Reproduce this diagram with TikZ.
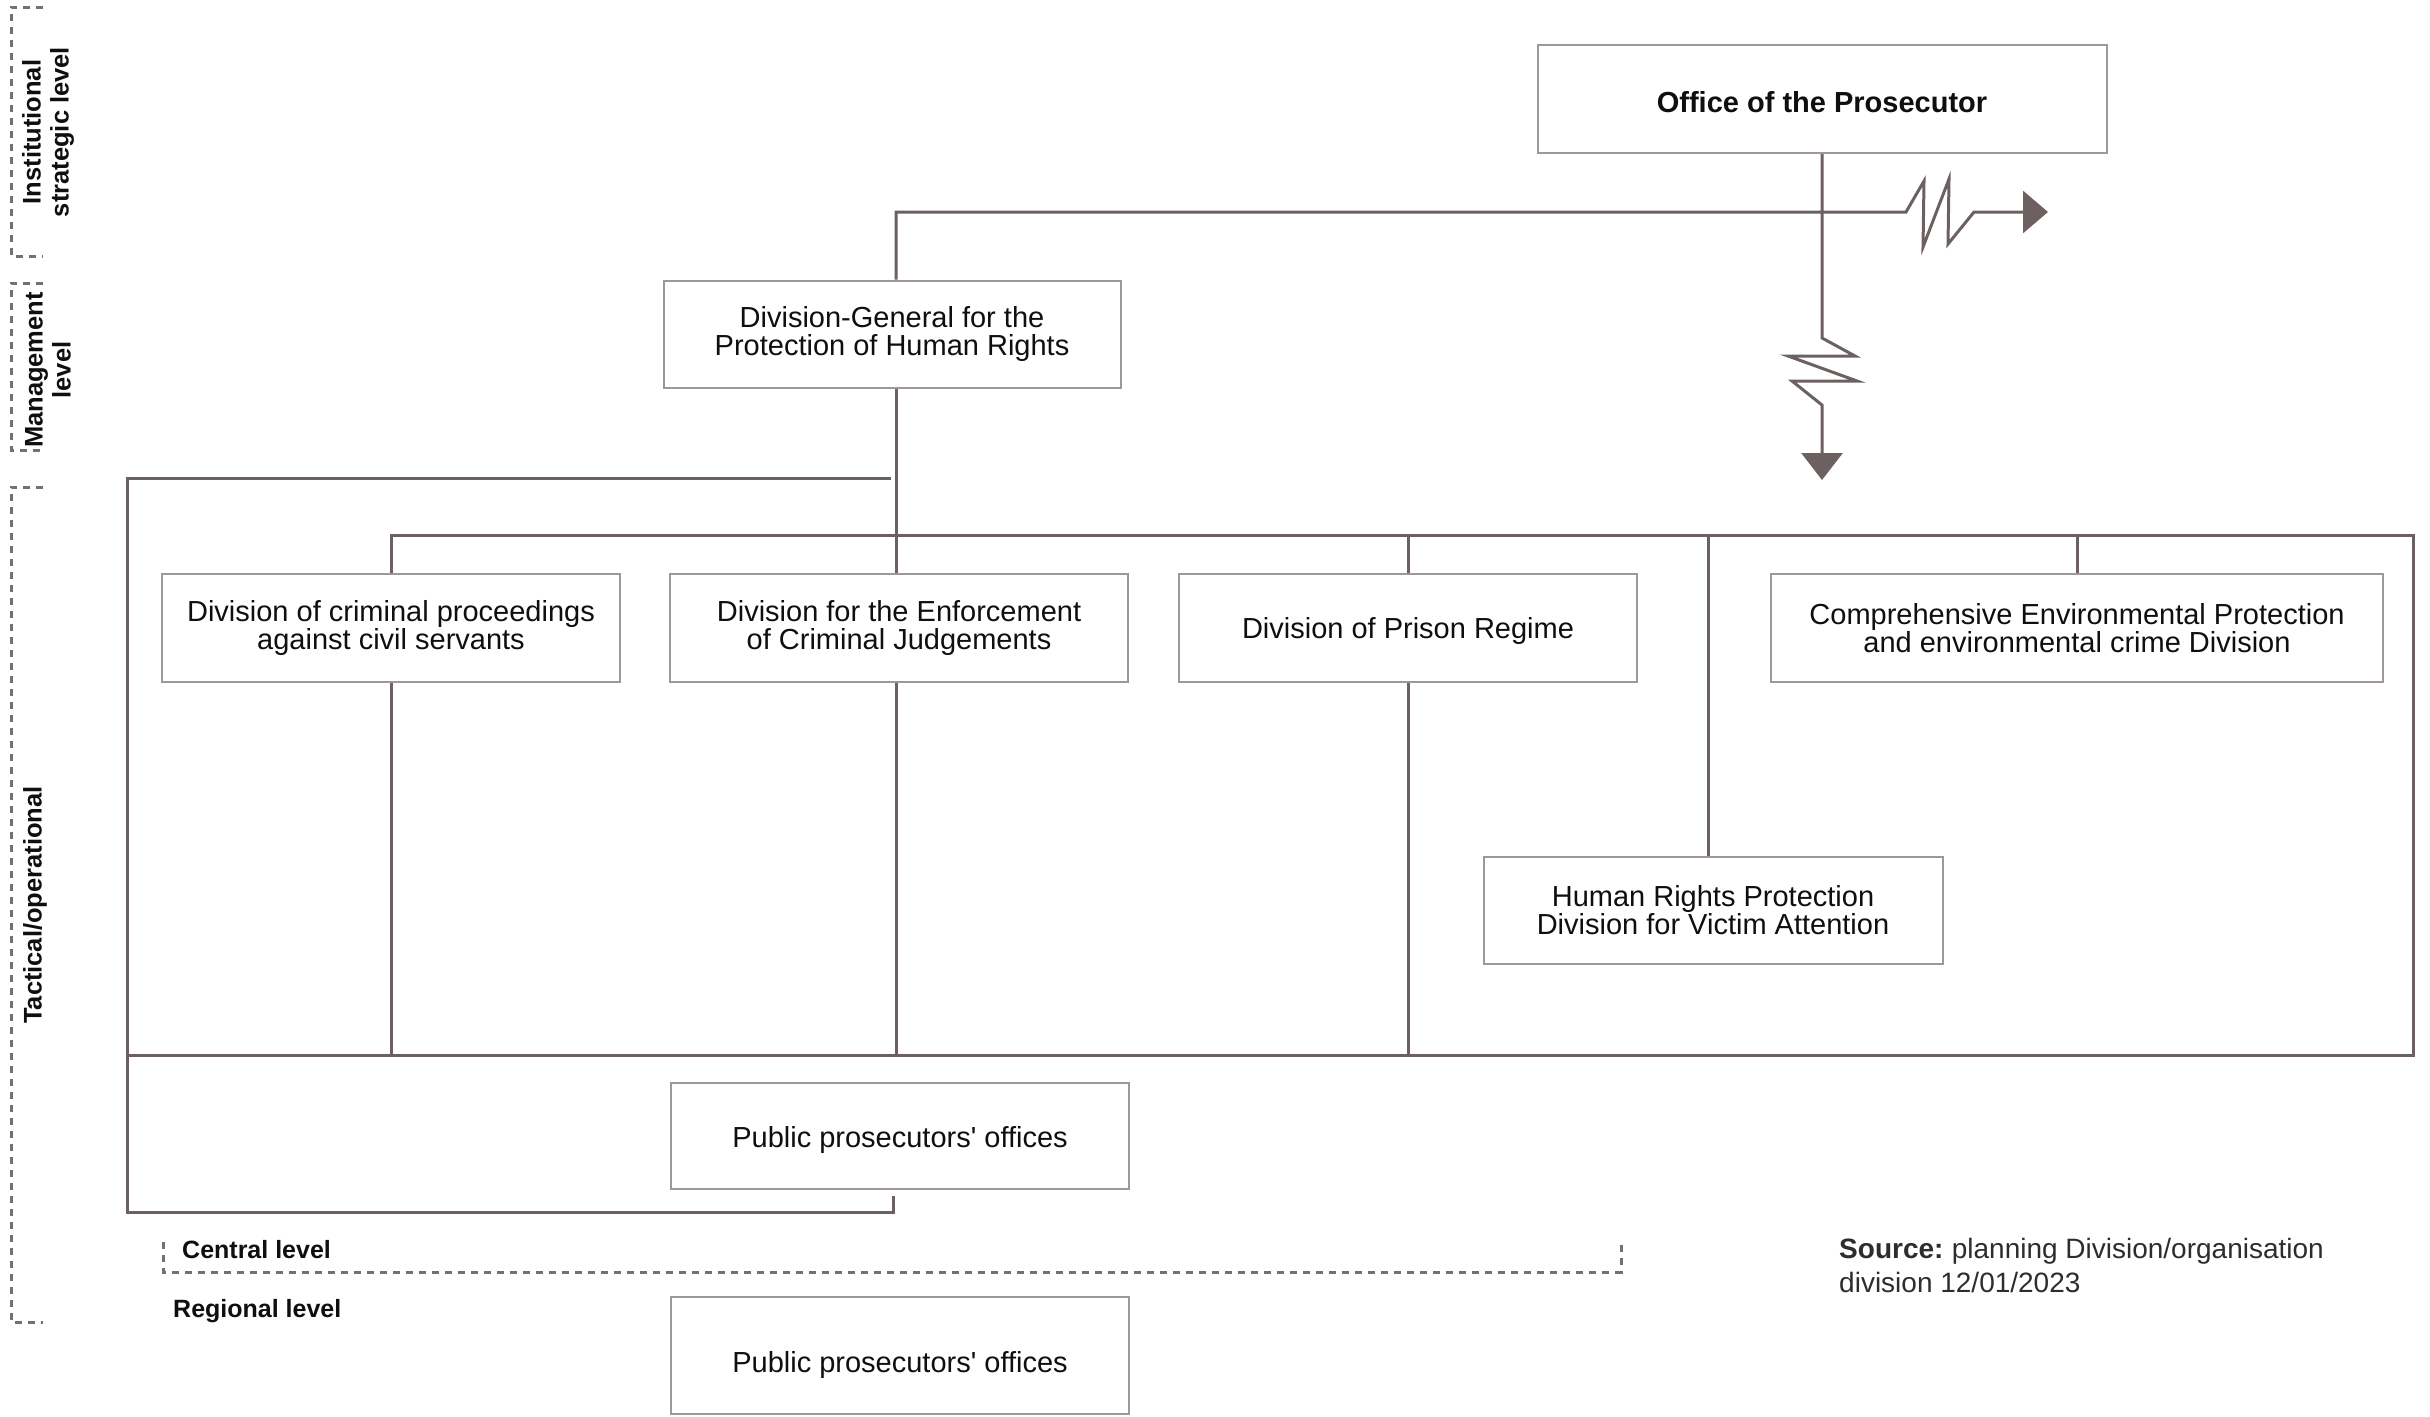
\documentclass[tikz,border=0pt]{standalone}
\usepackage{fontspec}
\setmainfont{Liberation Sans}[Ligatures=TeXOff]
\usetikzlibrary{arrows.meta}
\definecolor{conncol}{RGB}{108,96,96}
\definecolor{boxcol}{RGB}{160,152,152}
\definecolor{dashcol}{RGB}{120,110,110}
\definecolor{txtcol}{RGB}{15,15,15}
\definecolor{srccol}{RGB}{45,45,45}
\begin{document}
\begin{tikzpicture}[x=1pt,y=-1pt,
  conn/.style={draw=conncol, line width=3pt, line join=miter},
  box/.style={draw=boxcol, line width=2pt, fill=white, align=center, text=txtcol,
    font=\fontsize{29}{28}\selectfont, inner sep=0pt, minimum width=458pt, minimum height=108pt},
  lbl/.style={font=\bfseries\fontsize{25.5}{28}\selectfont, align=center, text=txtcol, inner sep=0pt},
  lvl/.style={draw=dashcol, line width=3pt, dash pattern=on 7pt off 6pt},
  levtxt/.style={font=\bfseries\fontsize{25}{28}\selectfont, text=txtcol, inner sep=0pt, anchor=base west}]
\useasboundingbox (0,0) rectangle (2430,1416);

% level brackets
\draw[lvl] (43,7) -- (11,7) -- (11,256) -- (43,256);
\draw[lvl] (43,283) -- (11,283) -- (11,450) -- (43,450);
\draw[lvl] (43,487) -- (11,487) -- (11,1322) -- (43,1322);
\node[lbl, rotate=90] (linst) at (48,132) {Institutional\\strategic level};
\node[lbl, rotate=90] (lman) at (48,370) {Management\\level};
\node[lbl, rotate=90] (ltac) at (35,905) {Tactical/operational};

% boxes
\node[box, font=\bfseries\fontsize{29}{28}\selectfont, minimum width=569pt, text height=26pt, text depth=0pt] (op) at (1822,99) {Office of the Prosecutor};
\node[box, minimum width=457pt, minimum height=107pt] (dg) at (892,334) {Division-General for the\\Protection of Human Rights};
\node[box] (a) at (391,628) {Division of criminal proceedings\\against civil servants};
\node[box] (b) at (899,628) {Division for the Enforcement\\of Criminal Judgements};
\node[box, text height=20pt, text depth=0pt] (c) at (1408,628) {Division of Prison Regime};
\node[box, minimum width=612pt] (d) at (2077,628) {Comprehensive Environmental Protection\\and environmental crime Division};
\node[box, minimum width=459pt, minimum height=107pt] (e) at (1713,910) {Human Rights Protection\\Division for Victim Attention};
\node[box, minimum height=106pt, text height=22pt, text depth=0pt] (p1) at (900,1136) {Public prosecutors' offices};
\node[box, minimum height=117pt, text height=33pt, text depth=0pt] (p2) at (900,1355.5) {Public prosecutors' offices};

% coordinates
\coordinate (colB) at (896,0);
\coordinate (colE) at (1708,0);
\coordinate (hArrow) at (2048,212);
\coordinate (vArrow) at (1822,480);
\coordinate (barR) at (2413,535);
\coordinate (botL) at (127,1055);
\coordinate (brTop) at (891,478);
\coordinate (brCorner) at (127,1212);
\coordinate (brEnd) at (893,1196);

% connectors
\draw[conn,-{Triangle[length=25pt,width=42pt]}] (dg.north -| colB) |- (1906,212) -- (1924,181) -- (1923,247) -- (1949,179) -- (1948,244) -- (1974,212) -- (hArrow);
\draw[conn,-{Triangle[length=27pt,width=41pt]}] (op.south) -- (1822,338) -- (1855,356) -- (1788,356) -- (1857,381) -- (1792,381) -- (1822,405) -- (vArrow);
\draw[conn] (dg.south -| colB) -- (b.north -| colB);
\draw[conn] (brTop) -| (brCorner) -| (brEnd);
\draw[conn] (a.north) |- (barR) |- (botL);
\draw[conn] (c.north) -- (c.north |- barR);
\draw[conn] (d.north) -- (d.north |- barR);
\draw[conn] (e.north -| colE) -- (colE |- barR);
\draw[conn] (a.south) -- (a.south |- botL);
\draw[conn] (b.south -| colB) -- (colB |- botL);
\draw[conn] (c.south) -- (c.south |- botL);

% central / regional
\draw[lvl] (163,1242) -- (163,1272) -- (1621,1272) -- (1621,1242);
\node[levtxt] (cen) at (182,1258) {Central level};
\node[levtxt] (reg) at (173,1317) {Regional level};

% source
\node[anchor=north west, align=left, inner sep=0pt, text=srccol, font=\fontsize{28}{34}\selectfont] (src) at (1839,1238)
  {\textbf{Source:}\hspace{-2pt} planning Division/organisation\\division 12/01/2023};
\end{tikzpicture}
\end{document}
